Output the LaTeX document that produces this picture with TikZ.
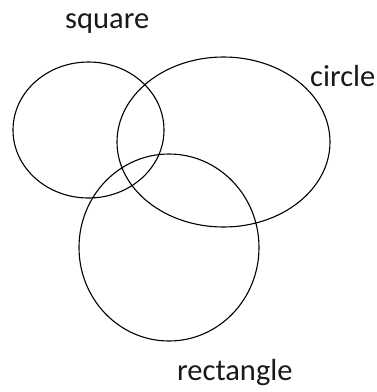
\documentclass[tikz,border=0pt]{standalone}
\usepackage{fontspec}
\setmainfont{Carlito}
\begin{document}
\begin{tikzpicture}[x=1pt,y=-1pt,
  venn/.style={draw=black,line width=1.1pt},
  lbl/.style={anchor=base west,inner sep=0pt,font=\fontsize{30.5}{36}\selectfont,text=black!90}]
\useasboundingbox (0,0) rectangle (377,392);
\draw[venn] (88.5,130) ellipse [x radius=75.5, y radius=68];
\draw[venn] (223.5,142) ellipse [x radius=106.5, y radius=85];
\draw[venn] (169,247.5) ellipse [x radius=90, y radius=93.5];
\node[lbl] (sq) at (65,28) {square};
\node[lbl] (ci) at (310,86) {circle};
\node[lbl] (re) at (177,380) {rectangle};
\end{tikzpicture}
\end{document}
